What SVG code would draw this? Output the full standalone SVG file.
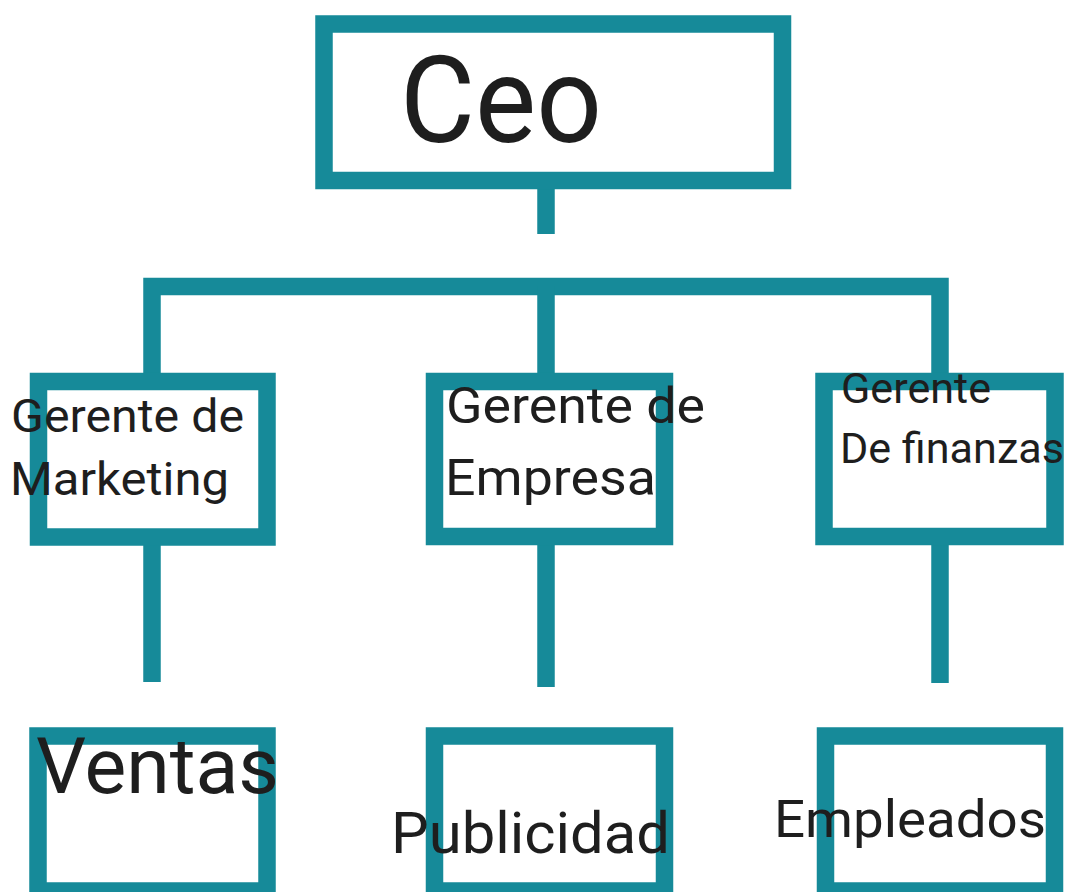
<svg xmlns="http://www.w3.org/2000/svg" width="1067" height="892" viewBox="0 0 1067 892">
<style>
.box{fill:none;stroke:#168a99;stroke-width:17.5}
.ln{fill:none;stroke:#168a99;stroke-width:17.5;stroke-linejoin:miter;stroke-linecap:butt}
.t{font-family:Roboto,"Liberation Sans",sans-serif;fill:#1e1e1e}
</style>
<rect width="1067" height="892" fill="#ffffff"/>
<g id="connectors">
<path class="ln" d="M546,189 V234"/>
<path class="ln" d="M152,373 V286.5 H940 V373"/>
<path class="ln" d="M546,286.5 V373"/>
<path class="ln" d="M152,545 V682"/>
<path class="ln" d="M546,545 V687"/>
<path class="ln" d="M940,545 V683"/>
</g>
<g id="ceo">
<rect class="box" x="324" y="24" width="458.5" height="156.5"/>
<text class="t" x="400" y="142" font-size="120" textLength="202" lengthAdjust="spacingAndGlyphs">Ceo</text>
</g>
<g id="gerente-marketing">
<rect class="box" x="38.5" y="381.5" width="228.5" height="155.5"/>
<text class="t" x="11" y="432" font-size="46" textLength="233" lengthAdjust="spacingAndGlyphs">Gerente de</text>
<text class="t" x="10" y="495" font-size="46" textLength="219" lengthAdjust="spacingAndGlyphs">Marketing</text>
</g>
<g id="gerente-empresa">
<rect class="box" x="434.5" y="381.5" width="230" height="155"/>
<text class="t" x="446" y="423" font-size="50" textLength="259" lengthAdjust="spacingAndGlyphs">Gerente de</text>
<text class="t" x="445" y="495" font-size="50" textLength="211" lengthAdjust="spacingAndGlyphs">Empresa</text>
</g>
<g id="gerente-finanzas">
<rect class="box" x="824" y="381.5" width="231" height="155"/>
<text class="t" x="841" y="403" font-size="42" textLength="150" lengthAdjust="spacingAndGlyphs">Gerente</text>
<text class="t" x="840" y="463" font-size="42" textLength="224" lengthAdjust="spacingAndGlyphs">De finanzas</text>
</g>
<g id="ventas">
<rect class="box" x="38" y="736" width="229" height="155"/>
<text class="t" x="36" y="793" font-size="77" textLength="243" lengthAdjust="spacingAndGlyphs">Ventas</text>
</g>
<g id="publicidad">
<rect class="box" x="434.5" y="736" width="230" height="155"/>
<text class="t" x="391" y="853" font-size="58" textLength="279" lengthAdjust="spacingAndGlyphs">Publicidad</text>
</g>
<g id="empleados">
<rect class="box" x="825.5" y="736" width="229" height="155"/>
<text class="t" x="774" y="837" font-size="52" textLength="272" lengthAdjust="spacingAndGlyphs">Empleados</text>
</g>
</svg>
